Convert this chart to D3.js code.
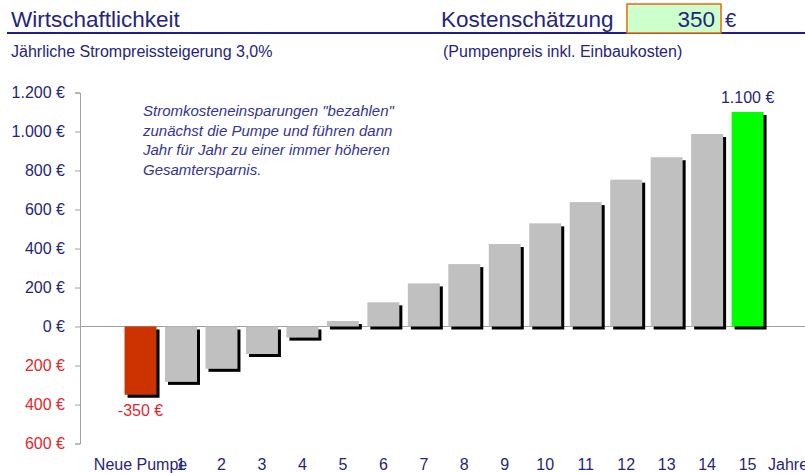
<!DOCTYPE html>
<html lang="de">
<head>
<meta charset="utf-8">
<script src="https://cdn.jsdelivr.net/npm/d3@7"></script>
<style>
  html, body { margin: 0; padding: 0; background: #fff; }
  svg { display: block; }
  text { font-family: Arial, "Liberation Sans", sans-serif; }
</style>
</head>
<body>
<svg id="chart" width="805" height="473"></svg>
<script>
// Kumulierte Ersparnis: Anschaffung der neuen Pumpe, danach Jahr 1 bis 15
const categories = ["Neue Pumpe", "1", "2", "3", "4", "5", "6", "7", "8", "9", "10", "11", "12", "13", "14", "15", "Jahre"];
const savings = [-350, -284, -217, -141, -57, 28, 124, 221, 320, 423, 529, 638, 753, 868, 987, 1100];
const yTicks = [-600, -400, -200, 0, 200, 400, 600, 800, 1000, 1200];
const pumpCost = 350;
const priceIncrease = "3,0%";
const noteLines = [
  "Stromkosteneinsparungen \"bezahlen\"",
  "zunächst die Pumpe und führen dann",
  "Jahr für Jahr zu einer immer höheren",
  "Gesamtersparnis."
];

const NAVY = "#25257d";
const RED = "#e3262e";

const svg = d3.select("#chart");
const de = d3.formatLocale({ decimal: ",", thousands: ".", grouping: [3], currency: ["", " €"] });
const fmt = de.format(",.0f");
const euro = v => fmt(v) + " €";

// Kopfzeile
svg.append("text").attr("x", 11).attr("y", 27)
  .attr("font-size", 22.5).attr("fill", NAVY).text("Wirtschaftlichkeit");
svg.append("text").attr("x", 441).attr("y", 27)
  .attr("font-size", 22.5).attr("fill", NAVY).text("Kostenschätzung");
svg.append("line").attr("x1", 7).attr("x2", 805).attr("y1", 33).attr("y2", 33)
  .attr("stroke", "#1f1f8a").attr("stroke-width", 2);
svg.append("rect").attr("x", 627).attr("y", 4).attr("width", 94).attr("height", 29)
  .attr("fill", "#ccffcc").attr("stroke", "#e46c0a").attr("stroke-width", 1.5);
svg.append("text").attr("x", 715).attr("y", 27).attr("text-anchor", "end")
  .attr("font-size", 22.5).attr("fill", NAVY).text(pumpCost);
svg.append("text").attr("x", 725).attr("y", 27)
  .attr("font-size", 20).attr("fill", NAVY).text("€");

svg.append("text").attr("x", 11).attr("y", 57)
  .attr("font-size", 16).attr("fill", NAVY).text("Jährliche Strompreissteigerung " + priceIncrease);
svg.append("text").attr("x", 443).attr("y", 57)
  .attr("font-size", 16).attr("fill", NAVY).text("(Pumpenpreis inkl. Einbaukosten)");

// Skalen
const x = d3.scaleBand().domain(categories).range([120.3, 808.3])
  .paddingInner(0.21).paddingOuter(0.105);
const y = d3.scaleLinear().domain([-600, 1200]).range([443.5, 92.5]);
const axisX = 80;

// y-Achse
const yAxis = d3.axisLeft(y).tickValues(yTicks).tickSize(5).tickPadding(10)
  .tickFormat(d => euro(Math.abs(d)));
const gy = svg.append("g").attr("transform", `translate(${axisX},0)`).call(yAxis);
gy.select(".domain").attr("stroke", "#a0a0a0");
gy.selectAll(".tick line").attr("stroke", "#a0a0a0");
gy.selectAll(".tick text")
  .attr("font-family", "Arial, 'Liberation Sans', sans-serif")
  .attr("font-size", 16)
  .attr("fill", d => d < 0 ? RED : NAVY);

// Nulllinie
svg.append("line").attr("x1", axisX).attr("x2", 805)
  .attr("y1", y(0)).attr("y2", y(0))
  .attr("stroke", "#a0a0a0").attr("stroke-width", 1);

const data = savings.map((v, i) => ({ cat: categories[i], value: v, i }));
const barColor = d => d.i === 0 ? "#cc3300" : (d.i === savings.length - 1 ? "#00ff00" : "#c0c0c0");

// Schatten
svg.append("g").selectAll("rect").data(data).join("rect")
  .attr("x", d => x(d.cat) + 3)
  .attr("y", d => Math.min(y(d.value), y(0)) + 3)
  .attr("width", x.bandwidth())
  .attr("height", d => Math.abs(y(d.value) - y(0)))
  .attr("fill", "#000");

// Balken
svg.append("g").selectAll("rect").data(data).join("rect")
  .attr("x", d => x(d.cat))
  .attr("y", d => Math.min(y(d.value), y(0)))
  .attr("width", x.bandwidth())
  .attr("height", d => Math.abs(y(d.value) - y(0)))
  .attr("fill", barColor);

// Wertbeschriftungen für erste und letzte Säule
const first = data[0], last = data[data.length - 1];
svg.append("text").attr("x", x(first.cat) + x.bandwidth() / 2).attr("y", y(first.value) + 21)
  .attr("text-anchor", "middle").attr("font-size", 16).attr("fill", RED)
  .text(euro(first.value).replace("−", "-"));
svg.append("text").attr("x", x(last.cat) + x.bandwidth() / 2).attr("y", y(last.value) - 9)
  .attr("text-anchor", "middle").attr("font-size", 16).attr("fill", NAVY)
  .text(euro(last.value));

// x-Beschriftungen
svg.append("g").selectAll("text").data(categories).join("text")
  .attr("x", d => x(d) + x.bandwidth() / 2)
  .attr("y", 470)
  .attr("text-anchor", "middle")
  .attr("font-size", 16)
  .attr("fill", NAVY)
  .text(d => d);

// Hinweistext
svg.append("text")
  .attr("font-family", "Lato, 'Open Sans', sans-serif")
  .attr("font-style", "italic")
  .attr("font-size", 15)
  .attr("fill", "#333399")
  .selectAll("tspan").data(noteLines).join("tspan")
  .attr("x", 143).attr("y", (d, i) => 116 + i * 19.5)
  .text(d => d);
</script>
</body>
</html>
